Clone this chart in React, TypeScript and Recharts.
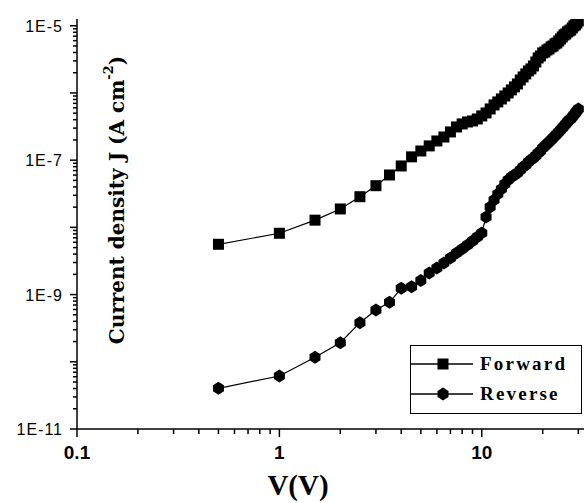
import { LineChart, Line, XAxis, YAxis, Legend } from 'recharts';

// applied bias (V), 0.5 V steps
const voltage = [
  0.5, 1, 1.5, 2, 2.5, 3, 3.5, 4, 4.5, 5,
  5.5, 6, 6.5, 7, 7.5, 8, 8.5, 9, 9.5, 10,
  10.5, 11, 11.5, 12, 12.5, 13, 13.5, 14, 14.5, 15,
  15.5, 16, 16.5, 17, 17.5, 18, 18.5, 19, 19.5, 20,
  20.5, 21, 21.5, 22, 22.5, 23, 23.5, 24, 24.5, 25,
  25.5, 26, 26.5, 27, 27.5, 28, 28.5, 29, 29.5, 30,
];

// current density J (A cm-2)
const forwardJ = [
  5.6e-9, 8.17e-9, 1.28e-8, 1.88e-8, 2.86e-8, 4.17e-8, 6.02e-8, 8.2e-8, 1.12e-7, 1.37e-7,
  1.63e-7, 1.93e-7, 2.21e-7, 2.63e-7, 3.12e-7, 3.46e-7, 3.7e-7, 3.83e-7, 4.1e-7, 4.55e-7,
  5.04e-7, 5.78e-7, 6.63e-7, 7.35e-7, 8.14e-7, 9.02e-7, 1.0e-6, 1.11e-6, 1.23e-6, 1.36e-6,
  1.56e-6, 1.73e-6, 1.92e-6, 2.13e-6, 2.28e-6, 2.52e-6, 2.89e-6, 3.32e-6, 3.55e-6, 3.94e-6,
  4.07e-6, 4.36e-6, 4.52e-6, 4.84e-6, 5.0e-6, 5.36e-6, 5.55e-6, 5.94e-6, 6.36e-6, 6.81e-6,
  7.3e-6, 7.55e-6, 8.09e-6, 8.37e-6, 8.66e-6, 9.27e-6, 9.93e-6, 1.03e-5, 1.1e-5, 1.18e-5,
];

const reverseJ = [
  4.03e-11, 6.15e-11, 1.17e-10, 1.92e-10, 3.82e-10, 5.9e-10, 7.68e-10, 1.24e-9, 1.31e-9, 1.62e-9,
  2.1e-9, 2.49e-9, 2.95e-9, 3.5e-9, 4.16e-9, 4.77e-9, 5.47e-9, 6.27e-9, 7.2e-9, 8.25e-9,
  1.43e-8, 2.01e-8, 2.56e-8, 3.14e-8, 3.73e-8, 4.42e-8, 5.07e-8, 5.62e-8, 6.02e-8, 6.45e-8,
  7.15e-8, 7.92e-8, 8.48e-8, 9.4e-8, 1.01e-7, 1.08e-7, 1.16e-7, 1.28e-7, 1.37e-7, 1.52e-7,
  1.63e-7, 1.74e-7, 1.87e-7, 2.0e-7, 2.14e-7, 2.29e-7, 2.45e-7, 2.63e-7, 2.81e-7, 3.01e-7,
  3.23e-7, 3.46e-7, 3.7e-7, 3.96e-7, 4.1e-7, 4.39e-7, 4.7e-7, 5.04e-7, 5.4e-7, 5.78e-7,
];

const xTicks = [
  0.1, 0.2, 0.3, 0.4, 0.5, 0.6, 0.7, 0.8, 0.9,
  1, 2, 3, 4, 5, 6, 7, 8, 9,
  10, 20, 30,
];
const xLabelValues = [0.1, 1, 10];
const xTickLabels = ['0.1', '1', '10'];

const yDecades = [-11, -10, -9, -8, -7, -6];
const yMinorSteps = [2, 3, 4, 5, 6, 7, 8, 9];
const yLabelValues = [1e-11, 1e-9, 1e-7, 1e-5];
const yTickLabels = ['1E-11', '1E-9', '1E-7', '1E-5'];

const yTicks: number[] = [];
yDecades.forEach((d) => {
  yTicks.push(Number(`1e${d}`));
  yMinorSteps.forEach((m) => yTicks.push(Number(`${m}e${d}`)));
});
yTicks.push(1e-5);
const yMajor = [...yDecades.map((d) => Number(`1e${d}`)), 1e-5];

const forwardData = voltage.map((v, i) => ({ v, j: forwardJ[i] }));
const reverseData = voltage.map((v, i) => ({ v, j: reverseJ[i] }));

const XTick = (props: any) => {
  const { x, y, payload } = props;
  const idx = xLabelValues.indexOf(payload.value);
  const major = idx >= 0;
  return (
    <g>
      <line x1={x} x2={x} y1={y} y2={y + (major ? 8 : 5)} stroke="#000" strokeWidth={1.5} />
      {major && (
        <text x={x} y={y + 30} textAnchor="middle" fontFamily="Arial, 'Liberation Sans'" fontWeight="bold" fontSize={19} fill="#000">
          {xTickLabels[idx]}
        </text>
      )}
    </g>
  );
};

const YTick = (props: any) => {
  const { x, y, payload } = props;
  const idx = yLabelValues.indexOf(payload.value);
  const major = yMajor.indexOf(payload.value) >= 0;
  return (
    <g>
      <line x1={x - (major ? 7 : 4)} x2={x} y1={y} y2={y} stroke="#000" strokeWidth={1.5} />
      {idx >= 0 && (
        <text x={x - 14} y={y + 6} textAnchor="end" fontFamily="Arial, 'Liberation Sans'" fontSize={16} letterSpacing={1} fill="#000">
          {yTickLabels[idx]}
        </text>
      )}
    </g>
  );
};

const Square = (props: any) => {
  const { cx, cy, index } = props;
  return <rect key={`sq-${index}`} x={cx - 5.5} y={cy - 5.5} width={11} height={11} fill="#000" />;
};

const Hexagon = (props: any) => {
  const { cx, cy, index } = props;
  const pts = `${cx},${cy - 6.5} ${cx + 5.5},${cy - 3} ${cx + 5.5},${cy + 3} ${cx},${cy + 6.5} ${cx - 5.5},${cy + 3} ${cx - 5.5},${cy - 3}`;
  return <polygon key={`hx-${index}`} points={pts} fill="#000" />;
};

const YTitle = () => (
  <text
    x={117}
    y={200}
    transform="rotate(-90 117 200)"
    textAnchor="middle"
    dominantBaseline="central"
    fontFamily="'DejaVu Serif'"
    fontWeight="bold"
    fontSize={20}
    fill="#000"
  >
    Current density J (A cm
    <tspan fontSize={13} dy={-9}>-2</tspan>
    <tspan dy={9}>)</tspan>
  </text>
);

const XTitle = () => (
  <text x={298} y={495} textAnchor="middle" fontFamily="'Liberation Serif', 'Times New Roman'" fontWeight="bold" fontSize={29} fill="#000">
    V(V)
  </text>
);

const legendRows = [
  { name: 'Forward', shape: 'square' },
  { name: 'Reverse', shape: 'hex' },
];

const LegendBox = () => (
  <div style={{ border: '1.5px solid #000', width: 170, height: 67, background: '#fff', boxSizing: 'content-box' }}>
    {legendRows.map((r, i) => (
      <div key={r.name} style={{ display: 'flex', alignItems: 'center', height: 30, marginTop: i === 0 ? 3 : 0 }}>
        <svg width={62} height={16} style={{ display: 'block' }}>
          <line x1={0} x2={62} y1={8} y2={8} stroke="#000" strokeWidth={1.5} />
          {r.shape === 'square' ? (
            <rect x={26.5} y={2.5} width={11} height={11} fill="#000" />
          ) : (
            <polygon points="32,1.5 37.5,5 37.5,11 32,14.5 26.5,11 26.5,5" fill="#000" />
          )}
        </svg>
        <span style={{ marginLeft: 7, fontFamily: "'Liberation Serif', 'Times New Roman'", fontWeight: 'bold', fontSize: 19, letterSpacing: 2.2, color: '#000' }}>
          {r.name}
        </span>
      </div>
    ))}
  </div>
);

export default function App() {
  return (
    <div style={{ position: 'absolute', left: 0, top: 0, width: 584, height: 503, background: '#fff' }}>
      <LineChart width={584} height={503} margin={{ top: 19, right: 0, bottom: 0, left: 0 }}>
        <XAxis
          dataKey="v"
          type="number"
          scale="log"
          domain={[0.1, 32]}
          allowDataOverflow
          ticks={xTicks}
          interval={0}
          tickSize={0}
          tickMargin={0}
          tickLine={false}
          tick={<XTick />}
          height={74}
          axisLine={{ stroke: '#000', strokeWidth: 1.5 }}
          label={<XTitle />}
        />
        <YAxis
          dataKey="j"
          type="number"
          scale="log"
          domain={[1e-11, 1.26e-5]}
          allowDataOverflow
          ticks={yTicks}
          interval={0}
          tickSize={0}
          tickMargin={0}
          tickLine={false}
          tick={<YTick />}
          width={77}
          axisLine={{ stroke: '#000', strokeWidth: 1.5 }}
          label={<YTitle />}
        />
        <Legend
          layout="vertical"
          align="center"
          verticalAlign="middle"
          wrapperStyle={{ left: 410, top: 345, width: 173 }}
          content={<LegendBox />}
        />
        <Line
          data={forwardData}
          dataKey="j"
          name="Forward"
          type="linear"
          stroke="#000"
          strokeWidth={1.2}
          dot={Square}
          activeDot={false}
          isAnimationActive={false}
        />
        <Line
          data={reverseData}
          dataKey="j"
          name="Reverse"
          type="linear"
          stroke="#000"
          strokeWidth={1.2}
          dot={Hexagon}
          activeDot={false}
          isAnimationActive={false}
        />
      </LineChart>
    </div>
  );
}
